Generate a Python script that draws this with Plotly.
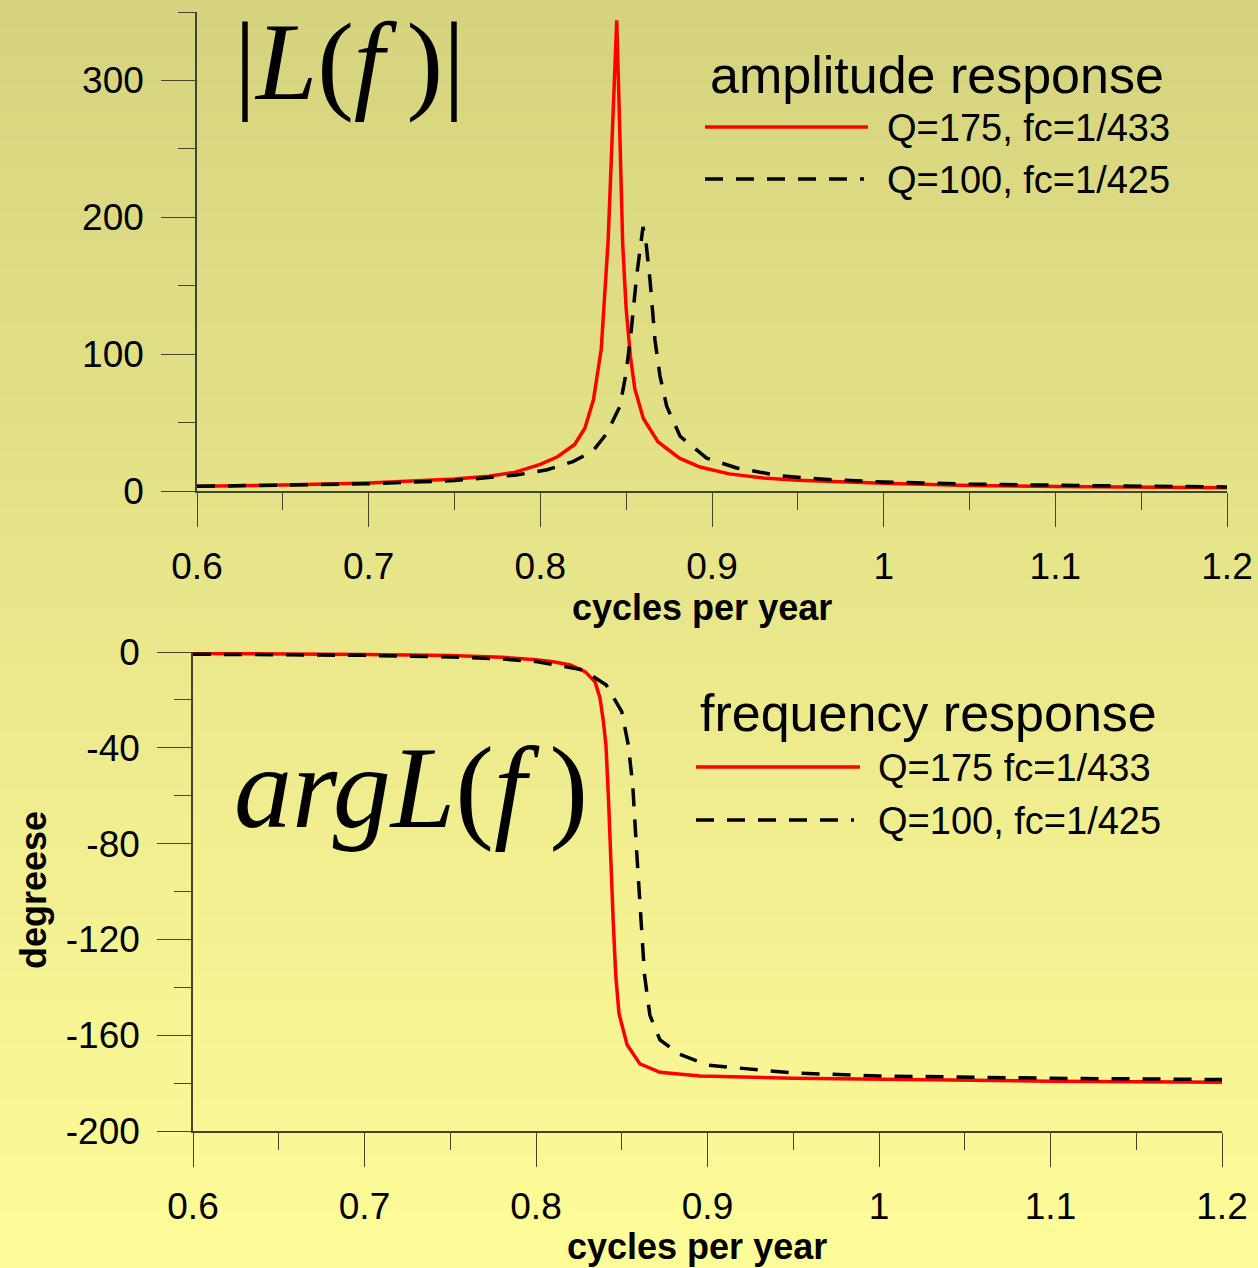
import plotly.graph_objects as go

# ---- data -------------------------------------------------------------
freq_amp_q175 = [0.60, 0.65, 0.70, 0.725, 0.75, 0.77, 0.785, 0.80, 0.81, 0.82, 0.826, 0.831,
                 0.8355, 0.8395, 0.843, 0.8445, 0.8455, 0.848, 0.850, 0.8525, 0.855, 0.860,
                 0.8685, 0.881, 0.893, 0.91, 0.93, 0.95, 1.00, 1.05, 1.10, 1.15, 1.20]
amp_q175 = [3.5, 4.3, 5.9, 7.0, 8.7, 10.8, 13.6, 19.5, 25.0, 34, 46, 67,
            104, 183, 305, 344, 300, 180, 133, 98, 75, 53,
            36, 24, 17.5, 12.5, 9.5, 7.8, 5.6, 4.1, 3.3, 2.8, 2.4]

freq_amp_q100 = [0.60, 0.65, 0.70, 0.75, 0.767, 0.786, 0.804, 0.819, 0.8305, 0.8387, 0.8464,
                 0.8499, 0.8526, 0.8541, 0.8561, 0.8598, 0.8616, 0.8639, 0.8668, 0.8697, 0.8736,
                 0.8814, 0.8969, 0.9144, 0.94, 0.97, 1.00, 1.05, 1.10, 1.15, 1.20]
amp_q100 = [3.4, 4.1, 5.3, 7.6, 9.4, 11.7, 15.5, 21.5, 29, 42, 62,
            86, 113, 132, 157, 193, 181, 154, 110, 84, 62,
            40, 24, 16.8, 11.0, 8.2, 6.6, 5.0, 4.1, 3.5, 3.0]

freq_ph_q175 = [0.60, 0.65, 0.70, 0.75, 0.78, 0.80, 0.81, 0.82, 0.8286, 0.8344, 0.8373, 0.8393,
                0.8408, 0.8422, 0.8435, 0.8450, 0.8465, 0.8484, 0.8531, 0.8606, 0.8723, 0.8956,
                0.95, 1.00, 1.10, 1.20]
phase_q175 = [-0.6, -0.7, -1.0, -1.5, -2.2, -3.2, -4.1, -5.4, -8.2, -12.4, -19.2, -29,
              -39, -60, -88, -112, -135, -151, -164, -172, -175.5, -177,
              -178, -178.5, -179.2, -179.6]

freq_ph_q100 = [0.60, 0.65, 0.70, 0.75, 0.78, 0.80, 0.8274, 0.841, 0.85, 0.8538, 0.8564, 0.8587,
                0.861, 0.8633, 0.8664, 0.8723, 0.8839, 0.90, 0.95, 1.00, 1.10, 1.20]
phase_q100 = [-0.9, -1.1, -1.4, -2.1, -2.9, -4.0, -7.5, -13.8, -24.9, -38.8, -55.5, -83.4,
              -110, -135, -151.6, -162, -168, -172.5, -175.8, -177, -178, -178.5]

x_tick_vals = [0.6, 0.7, 0.8, 0.9, 1.0, 1.1, 1.2]
x_tick_text = ["0.6", "0.7", "0.8", "0.9", "1", "1.1", "1.2"]
amp_tick_vals = [0, 100, 200, 300]
amp_tick_text = ["0", "100", "200", "300"]
phase_tick_vals = [0, -40, -80, -120, -160, -200]
phase_tick_text = ["0", "-40", "-80", "-120", "-160", "-200"]

amp_legend = ["Q=175, fc=1/433", "Q=100, fc=1/425"]
phase_legend = ["Q=175 fc=1/433", "Q=100, fc=1/425"]

# ---- geometry helpers (pixel -> paper) ---------------------------------
W, H = 1258, 1268


def px(x):
    return x / W


def py(y):
    return 1 - y / H


SANS = "Liberation Sans, Arial, sans-serif"
SERIF = "Liberation Serif, Times New Roman, serif"
AXIS_COLOR = "#45452f"
RED = "#ff0000"
DASH = "18px,13px"
THIN = "\u2009"

fig = go.Figure()

fig.add_trace(go.Scatter(x=freq_amp_q175, y=amp_q175, mode="lines",
                         line=dict(color=RED, width=3.5), xaxis="x", yaxis="y",
                         showlegend=False))
fig.add_trace(go.Scatter(x=freq_amp_q100, y=amp_q100, mode="lines",
                         line=dict(color="black", width=3.5, dash=DASH), xaxis="x", yaxis="y",
                         showlegend=False))
fig.add_trace(go.Scatter(x=freq_ph_q175, y=phase_q175, mode="lines",
                         line=dict(color=RED, width=3.5), xaxis="x2", yaxis="y2",
                         showlegend=False))
fig.add_trace(go.Scatter(x=freq_ph_q100, y=phase_q100, mode="lines",
                         line=dict(color="black", width=3.5, dash=DASH), xaxis="x2", yaxis="y2",
                         showlegend=False))

# ---- background gradient -------------------------------------------------
shapes = []
n_strips = 90
top_rgb = (213, 211, 126)
bot_rgb = (254, 252, 152)
for i in range(n_strips):
    t = i / (n_strips - 1)
    c = tuple(round(a + (b - a) * t) for a, b in zip(top_rgb, bot_rgb))
    y0 = 1 - i / n_strips
    y1 = 1 - (i + 1) / n_strips
    shapes.append(dict(type="rect", xref="paper", yref="paper", x0=0, x1=1,
                       y0=y1 - 0.001, y1=y0, line=dict(width=0),
                       fillcolor="rgb(%d,%d,%d)" % c, layer="below"))

# ---- hand-drawn legends ----------------------------------------------------
def legend_line(x0, x1, y, color, dash=None):
    line = dict(color=color, width=3.5)
    if dash:
        line["dash"] = dash
    return dict(type="line", xref="paper", yref="paper",
                x0=px(x0), x1=px(x1), y0=py(y), y1=py(y), line=line)


shapes += [
    legend_line(705, 868, 127, RED),
    legend_line(705, 864, 179, "black", DASH),
    legend_line(696, 860, 767, RED),
    legend_line(696, 854, 820, "black", DASH),
]

annotations = [
    dict(text="amplitude response", x=px(937), y=py(75), font=dict(size=52)),
    dict(text=amp_legend[0], x=px(885), y=py(128), xanchor="left", font=dict(size=38)),
    dict(text=amp_legend[1], x=px(885), y=py(180), xanchor="left", font=dict(size=38)),
    dict(text="frequency response", x=px(928), y=py(713), font=dict(size=52)),
    dict(text=phase_legend[0], x=px(876), y=py(768), xanchor="left", font=dict(size=38)),
    dict(text=phase_legend[1], x=px(876), y=py(821), xanchor="left", font=dict(size=38)),
    # axis titles
    dict(text="<b>cycles per year</b>", x=px(702), y=py(607), font=dict(size=36)),
    dict(text="<b>cycles per year</b>", x=px(697), y=py(1246), font=dict(size=36)),
    dict(text="<b>degreese</b>", x=px(33), y=py(890), textangle=-90, font=dict(size=36)),
    # formula labels
    dict(text="|<i>L</i>(<i>f</i>" + THIN + ")|",
         x=px(350), y=py(62), font=dict(family=SERIF, size=110)),
    dict(text="<i>argL</i>(<i>f</i>" + THIN + ")", x=px(411), y=py(788),
         font=dict(family=SERIF, size=116)),
]
for a in annotations:
    a.setdefault("xref", "paper")
    a.setdefault("yref", "paper")
    a.setdefault("showarrow", False)
    a.setdefault("xanchor", "center")
    a.setdefault("yanchor", "middle")
    a["font"].setdefault("family", SANS)
    a["font"].setdefault("color", "black")


def x_axis(domain, anchor):
    return dict(domain=domain, anchor=anchor, range=[0.6, 1.2],
                tickvals=x_tick_vals, ticktext=x_tick_text,
                showline=True, linecolor=AXIS_COLOR, linewidth=1.5,
                ticks="outside", ticklen=34, tickwidth=1.3, tickcolor=AXIS_COLOR,
                ticklabelstandoff=8,
                minor=dict(dtick=0.05, tick0=0.6, ticks="outside", ticklen=17,
                           tickwidth=1.3, tickcolor=AXIS_COLOR, showgrid=False),
                showgrid=False, zeroline=False, automargin=False,
                tickfont=dict(family=SANS, size=37, color="black"))


def y_axis(domain, anchor, rng, vals, text, minor_dtick):
    return dict(domain=domain, anchor=anchor, range=rng, tickvals=vals, ticktext=text,
                showline=True, linecolor=AXIS_COLOR, linewidth=1.5,
                ticks="outside", ticklen=34, tickwidth=1.3, tickcolor=AXIS_COLOR,
                ticklabelstandoff=10,
                minor=dict(dtick=minor_dtick, tick0=0, ticks="outside", ticklen=17,
                           tickwidth=1.3, tickcolor=AXIS_COLOR, showgrid=False),
                showgrid=False, zeroline=False, automargin=False,
                tickfont=dict(family=SANS, size=37, color="black"))


fig.update_layout(
    width=W, height=H,
    margin=dict(l=0, r=0, t=0, b=0, pad=0, autoexpand=False),
    paper_bgcolor="rgb(213,211,126)",
    plot_bgcolor="rgba(0,0,0,0)",
    showlegend=False,
    xaxis=x_axis([px(197), px(1227)], "y"),
    yaxis=y_axis([py(491), py(12)], "x", [0, 350], amp_tick_vals, amp_tick_text, 50),
    xaxis2=x_axis([px(193), px(1222)], "y2"),
    yaxis2=y_axis([py(1131), py(652)], "x2", [-200, 0], phase_tick_vals, phase_tick_text, 20),
    shapes=shapes,
    annotations=annotations,
)

fig.write_html("out.html")
